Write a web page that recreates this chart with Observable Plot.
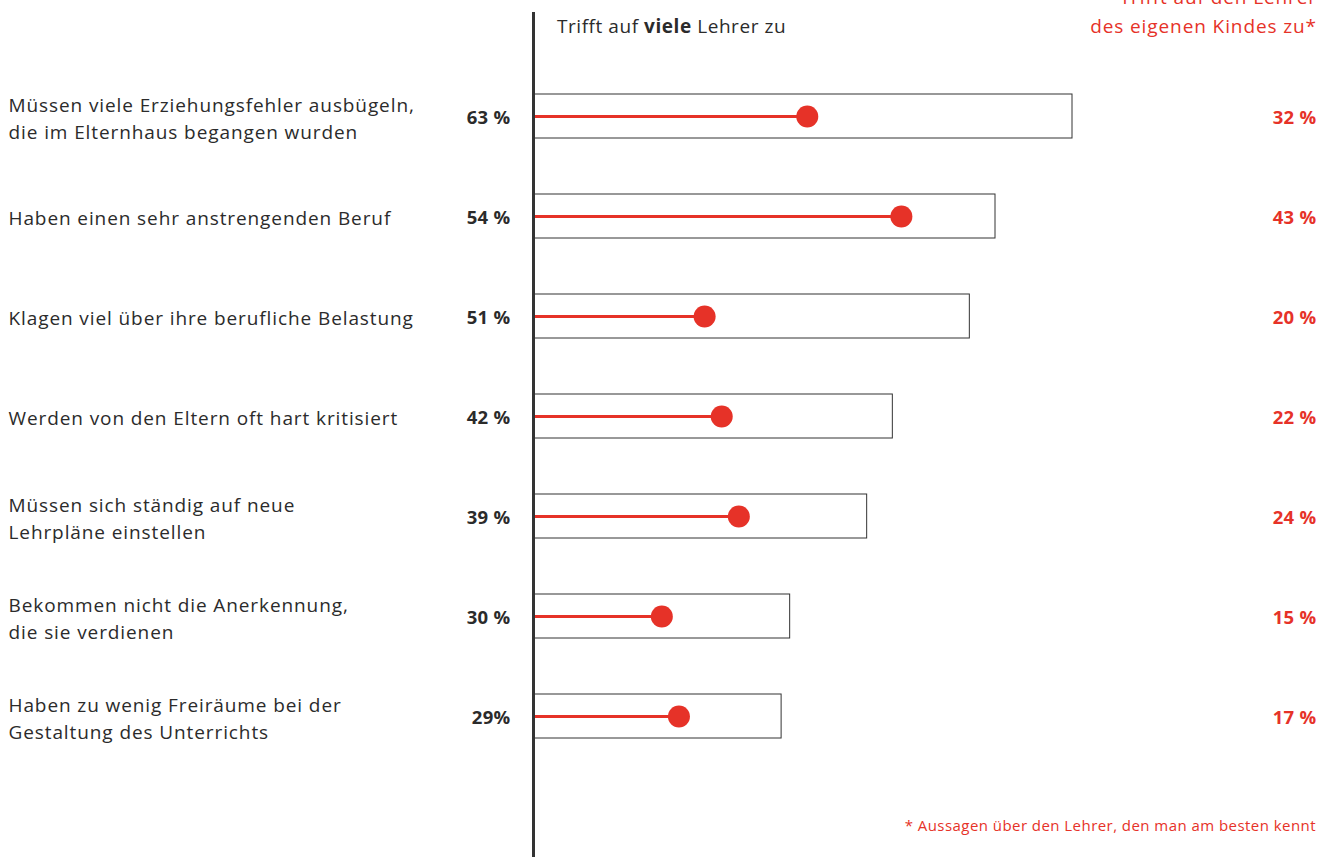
<!DOCTYPE html>
<html>
<head>
<meta charset="utf-8">
<script src="https://cdn.jsdelivr.net/npm/d3@7"></script>
<script src="https://cdn.jsdelivr.net/npm/@observablehq/plot@0.6"></script>
<style>
  body { margin: 0; background: #fff; font-family: "Open Sans", sans-serif; }
  #wrap { position: relative; width: 1329px; height: 857px; overflow: hidden; }
  .hdr { position: absolute; font-size: 19px; line-height: 29px; white-space: nowrap; }
  #h1 { left: 557px; top: 12px; color: #2b2b2b; letter-spacing: 0.55px; }
  #h2 { right: 12px; top: -17px; color: #e63228; text-align: right; letter-spacing: 0.9px; }
  #foot { position: absolute; right: 13px; top: 815px; font-size: 15px; letter-spacing: 0.45px; color: #e63228; white-space: nowrap; }
  #chart svg g[font-weight="normal"] { letter-spacing: 0.9px; }
  #chart svg g[font-weight="bold"] { letter-spacing: 0.3px; }
</style>
</head>
<body>
<div id="wrap">
  <div id="chart"></div>
  <div id="h1" class="hdr">Trifft auf <b>viele</b> Lehrer zu</div>
  <div id="h2" class="hdr">Trifft auf den Lehrer<br>des eigenen Kindes zu*</div>
  <div id="foot">* Aussagen über den Lehrer, den man am besten kennt</div>
</div>
<script>
const categories = [
  "Müssen viele Erziehungsfehler ausbügeln,\ndie im Elternhaus begangen wurden",
  "Haben einen sehr anstrengenden Beruf",
  "Klagen viel über ihre berufliche Belastung",
  "Werden von den Eltern oft hart kritisiert",
  "Müssen sich ständig auf neue\nLehrpläne einstellen",
  "Bekommen nicht die Anerkennung,\ndie sie verdienen",
  "Haben zu wenig Freiräume bei der\nGestaltung des Unterrichts"
];
const vieleValues = [63, 54, 51, 42, 39, 30, 29];
const eigenValues = [32, 43, 20, 22, 24, 15, 17];
const vieleLabels = ["63 %", "54 %", "51 %", "42 %", "39 %", "30 %", "29%"];
const eigenLabels = ["32 %", "43 %", "20 %", "22 %", "24 %", "15 %", "17 %"];

const rows = categories.map((c, i) => ({
  cat: c, viele: vieleValues[i], eigen: eigenValues[i],
  vl: vieleLabels[i], el: eigenLabels[i]
}));

const RED = "#e63228";
const DARK = "#2b2b2b";

const chart = Plot.plot({
  width: 1329,
  height: 857,
  marginLeft: 533,
  marginRight: 26,
  marginTop: 37,
  marginBottom: 63,
  style: { fontFamily: "Open Sans, sans-serif", background: "white" },
  x: { domain: [0, 90], axis: null },
  y: { domain: categories, axis: null, padding: 0.56 },
  marks: [
    Plot.barX(rows, { x: "viele", y: "cat", fill: "white", stroke: "#333", strokeWidth: 1 }),
    Plot.ruleY(rows, { x1: 0, x2: "eigen", y: "cat", stroke: RED, strokeWidth: 3 }),
    Plot.dot(rows, { x: "eigen", y: "cat", r: 11, fill: RED }),
    Plot.ruleX([0], { stroke: "#333", strokeWidth: 3, insetTop: -25, insetBottom: -63 }),
    Plot.text(rows, { y: "cat", text: "cat", frameAnchor: "left", textAnchor: "start", dx: -525,
      fontSize: 19, fontWeight: "normal", lineHeight: 1.45, fill: DARK }),
    Plot.text(rows, { y: "cat", text: "vl", frameAnchor: "left", textAnchor: "end", dx: -23, dy: 2,
      fontSize: 18.5, fontWeight: "bold", fill: DARK }),
    Plot.text(rows, { y: "cat", text: "el", frameAnchor: "right", textAnchor: "end", dx: 13, dy: 2,
      fontSize: 18.5, fontWeight: "bold", fill: RED })
  ]
});
document.getElementById("chart").appendChild(chart);
</script>
</body>
</html>
